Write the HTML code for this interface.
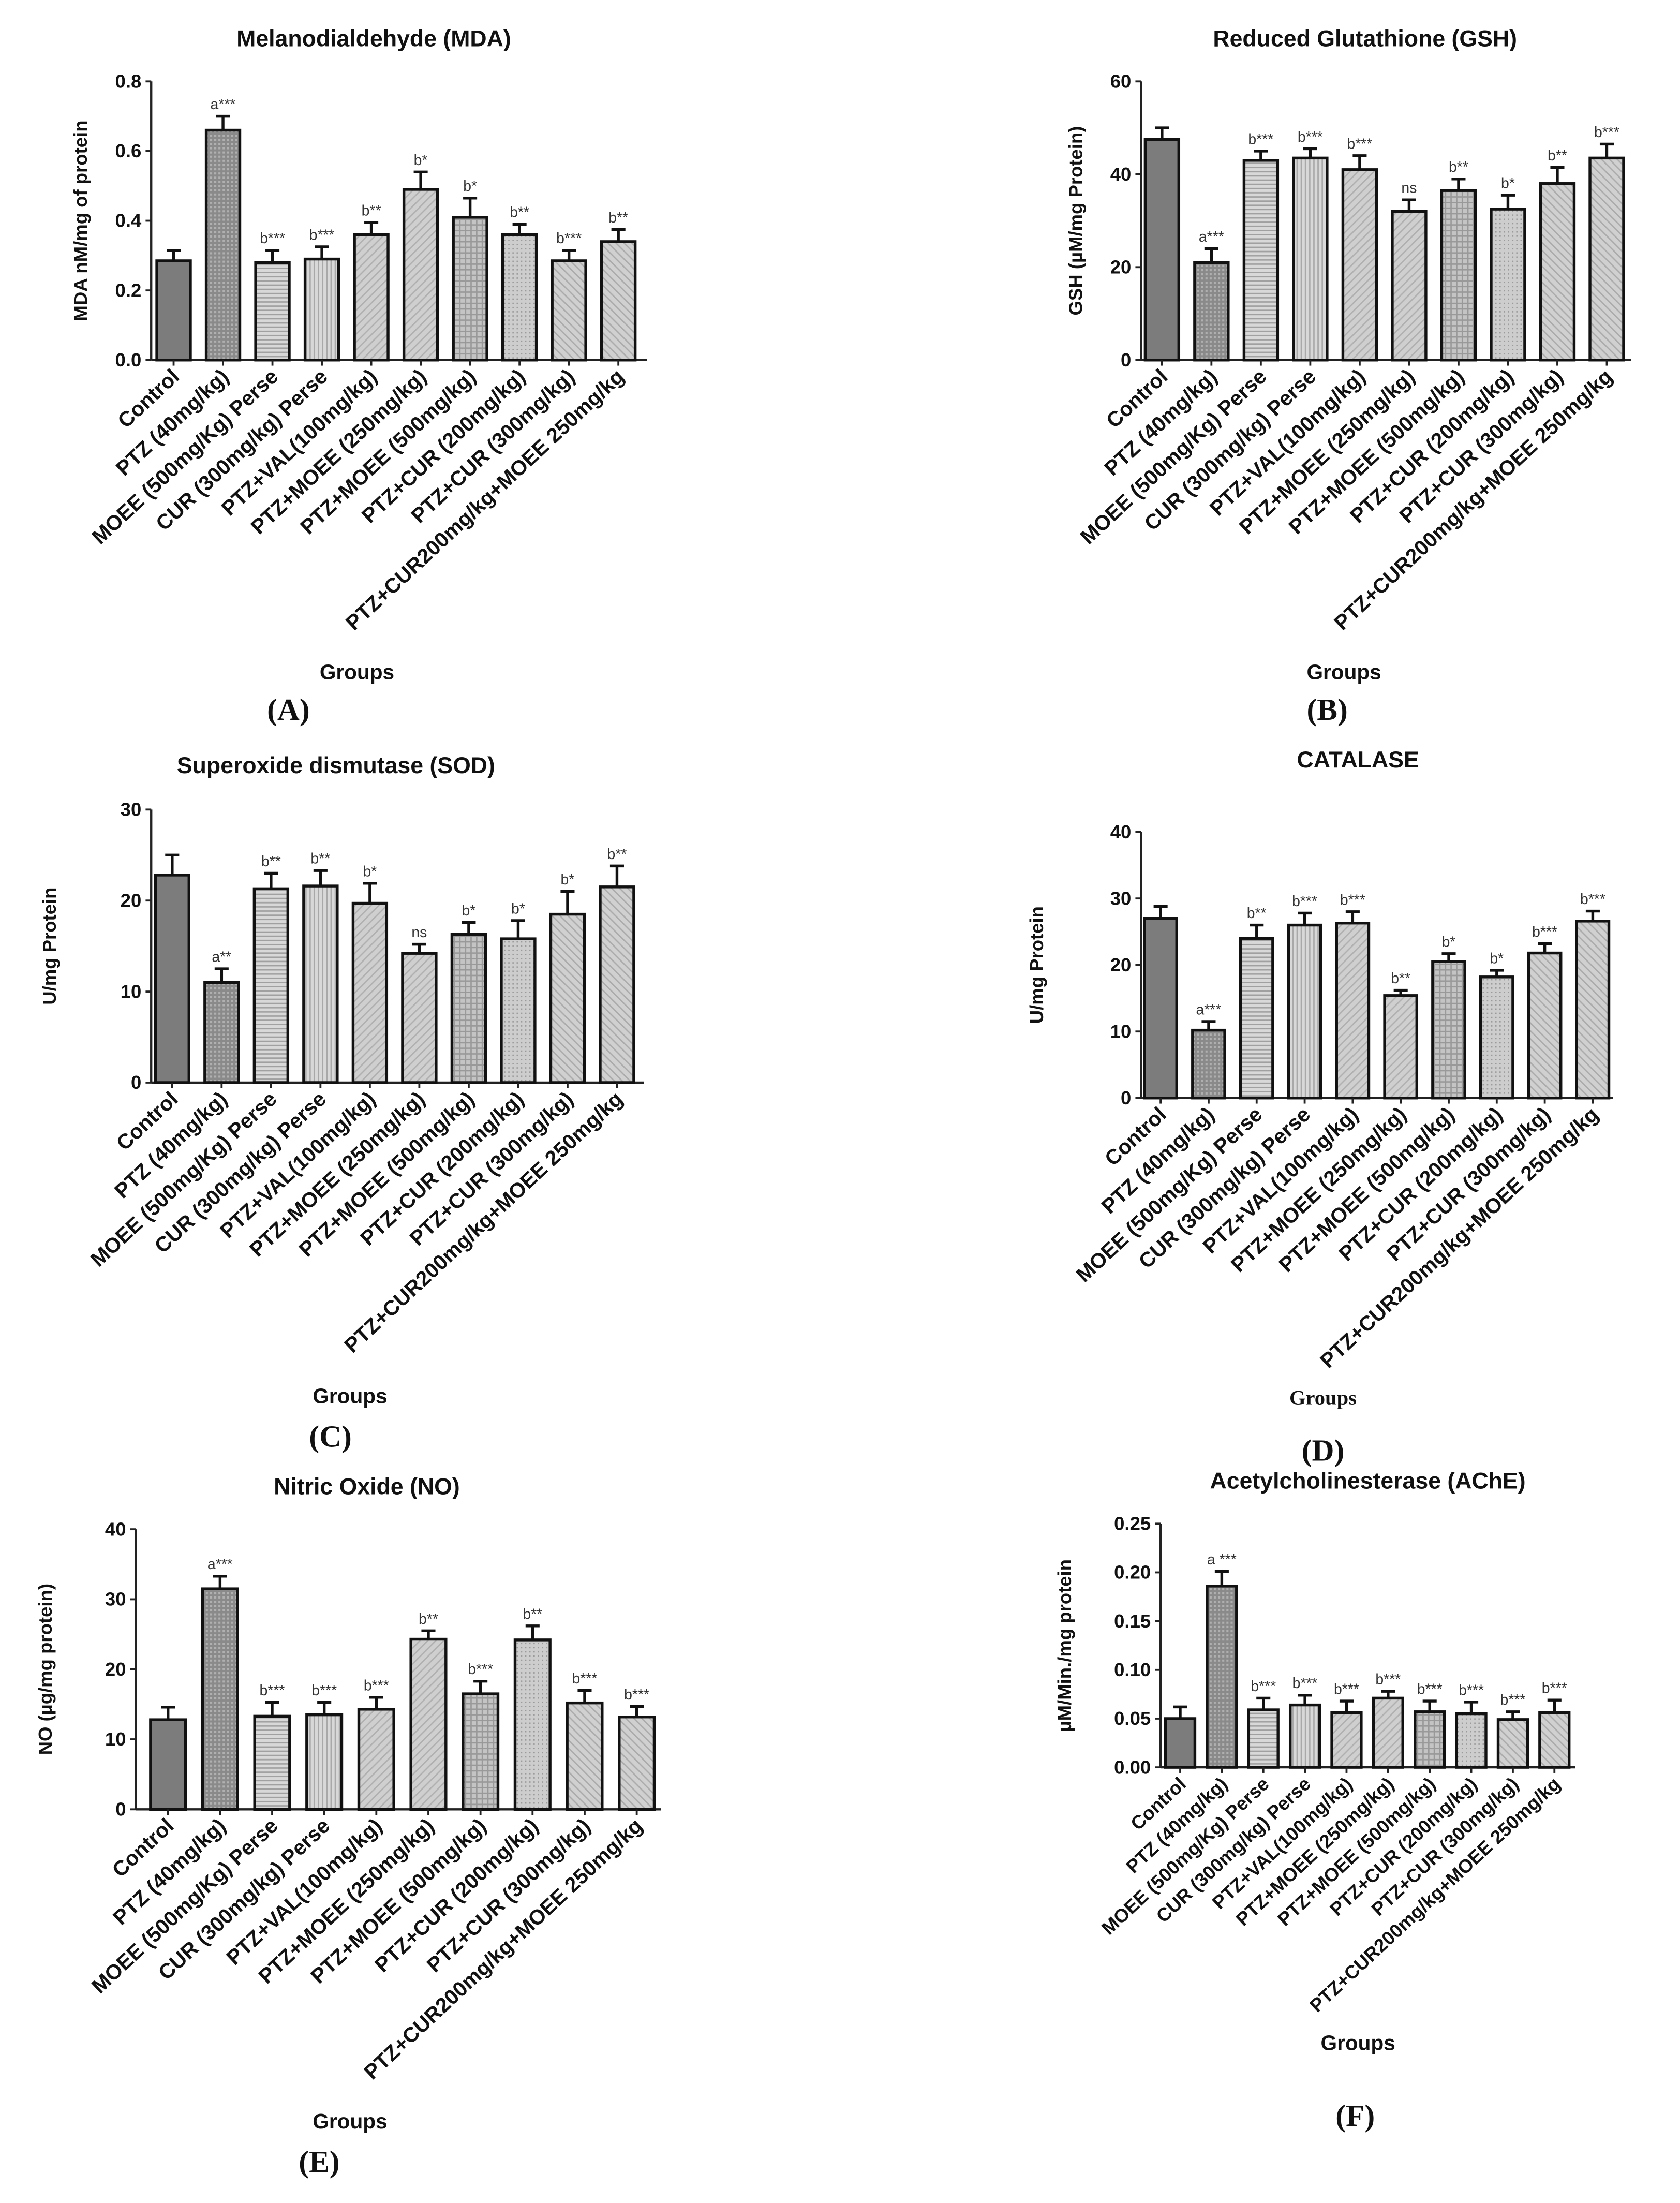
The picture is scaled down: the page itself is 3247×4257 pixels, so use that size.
<!DOCTYPE html>
<html><head><meta charset="utf-8"><style>
html,body{margin:0;padding:0;background:#fff;}
svg{display:block;}
text{font-family:"Liberation Sans",sans-serif;}
</style></head><body>
<svg id="fig" width="3247" height="4257" viewBox="0 0 1200 1573" xmlns="http://www.w3.org/2000/svg">
<defs>
<pattern id="pChk" width="3" height="3" patternUnits="userSpaceOnUse"><rect width="3" height="3" fill="#8a8a8a"/><rect width="1.5" height="1.5" fill="#b0b0b0"/></pattern>
<pattern id="pH" width="4" height="3" patternUnits="userSpaceOnUse"><rect width="4" height="3" fill="#d8d8d8"/><rect y="2" width="4" height="1" fill="#a0a0a0"/></pattern>
<pattern id="pV" width="3" height="4" patternUnits="userSpaceOnUse"><rect width="3" height="4" fill="#d8d8d8"/><rect x="2" width="1" height="4" fill="#a8a8a8"/></pattern>
<pattern id="pD1" width="4" height="4" patternUnits="userSpaceOnUse" patternTransform="rotate(45)"><rect width="4" height="4" fill="#cfcfcf"/><rect width="1" height="4" fill="#b0b0b0"/></pattern>
<pattern id="pD2" width="4" height="4" patternUnits="userSpaceOnUse" patternTransform="rotate(-45)"><rect width="4" height="4" fill="#d0d0d0"/><rect width="1" height="4" fill="#ababab"/></pattern>
<pattern id="pG" width="4" height="4" patternUnits="userSpaceOnUse"><rect width="4" height="4" fill="#c4c4c4"/><rect width="4" height="1" fill="#999"/><rect width="1" height="4" fill="#999"/></pattern>
<pattern id="pDot" width="3" height="3" patternUnits="userSpaceOnUse"><rect width="3" height="3" fill="#cdcdcd"/><rect width="1" height="1" fill="#9a9a9a"/></pattern>
</defs>
</svg>
<script>
const groups = ["Control","PTZ (40mg/kg)","MOEE (500mg/Kg) Perse","CUR (300mg/kg) Perse","PTZ+VAL(100mg/kg)","PTZ+MOEE (250mg/kg)","PTZ+MOEE (500mg/kg)","PTZ+CUR (200mg/kg)","PTZ+CUR (300mg/kg)","PTZ+CUR200mg/kg+MOEE 250mg/kg"];
const mdaValues = [0.285,0.66,0.28,0.29,0.36,0.49,0.41,0.36,0.285,0.34];
const mdaErrors = [0.03,0.04,0.035,0.035,0.035,0.05,0.055,0.03,0.03,0.035];
const mdaSig = ["","a***","b***","b***","b**","b*","b*","b**","b***","b**"];
const mdaTicks = ["0.0","0.2","0.4","0.6","0.8"];
const gshValues = [47.5,21,43,43.5,41,32,36.5,32.5,38,43.5];
const gshErrors = [2.5,3,2,2,3,2.5,2.5,3,3.5,3];
const gshSig = ["","a***","b***","b***","b***","ns","b**","b*","b**","b***"];
const gshTicks = ["0","20","40","60"];
const sodValues = [22.8,11,21.3,21.6,19.7,14.2,16.3,15.8,18.5,21.5];
const sodErrors = [2.2,1.5,1.7,1.7,2.2,1,1.3,2,2.5,2.3];
const sodSig = ["","a**","b**","b**","b*","ns","b*","b*","b*","b**"];
const sodTicks = ["0","10","20","30"];
const catValues = [27,10.2,24,26,26.3,15.4,20.5,18.2,21.8,26.6];
const catErrors = [1.8,1.3,2,1.8,1.7,0.8,1.2,1,1.4,1.5];
const catSig = ["","a***","b**","b***","b***","b**","b*","b*","b***","b***"];
const catTicks = ["0","10","20","30","40"];
const noValues = [12.8,31.5,13.3,13.5,14.3,24.3,16.5,24.2,15.2,13.2];
const noErrors = [1.8,1.8,2,1.8,1.7,1.2,1.8,2,1.8,1.5];
const noSig = ["","a***","b***","b***","b***","b**","b***","b**","b***","b***"];
const noTicks = ["0","10","20","30","40"];
const acheValues = [0.05,0.186,0.059,0.064,0.056,0.071,0.057,0.055,0.049,0.056];
const acheErrors = [0.012,0.015,0.012,0.01,0.012,0.007,0.011,0.012,0.008,0.013];
const acheSig = ["","a ***","b***","b***","b***","b***","b***","b***","b***","b***"];
const acheTicks = ["0.00","0.05","0.10","0.15","0.20","0.25"];

const fills = ["#7c7c7c","url(#pChk)","url(#pH)","url(#pV)","url(#pD1)","url(#pD1)","url(#pG)","url(#pDot)","url(#pD2)","url(#pD2)"];
const NS = "http://www.w3.org/2000/svg";
const svg = document.getElementById('fig');
function mk(tag, attrs, parent, txt){
  const e = document.createElementNS(NS, tag);
  for (const k in attrs) e.setAttribute(k, attrs[k]);
  if (txt !== undefined) e.textContent = txt;
  (parent||svg).appendChild(e);
  return e;
}
function panel(p){
  const g = mk('g', {});
  
  
  const max = parseFloat(p.ticks[p.ticks.length-1]);
  const yS = v => p.y0 - (v/max)*(p.y0-p.yTop);
  const xS = i => p.first + i*p.step;
  const t = mk('text', {x:p.tx, y:p.ty, 'text-anchor':'middle', 'font-size':16.5, 'font-weight':'bold', fill:'#111'}, g, p.title);
  
  
  const yl = mk('text', {x:0, y:0, transform:`translate(${p.ylx},${(p.y0+p.yTop)/2}) rotate(-90)`, 'text-anchor':'middle', 'font-size':13.5, 'font-weight':'bold', fill:'#111'}, g, p.ylabel);
  
  
  const ya = mk('line', {x1:p.ax, y1:p.yTop, x2:p.ax, y2:p.y0, stroke:'#222', 'stroke-width':1.6}, g);
  
  
  const xa = mk('line', {x1:p.ax, y1:p.y0, x2:p.xEnd, y2:p.y0, stroke:'#222', 'stroke-width':1.6}, g);
  
  
  p.ticks.forEach(tl => {
    const y = yS(parseFloat(tl));
    mk('line', {x1:p.ax-4, y1:y, x2:p.ax, y2:y, stroke:'#222', 'stroke-width':1.4}, g);
    const tt = mk('text', {x:p.ax-7, y:y+4.5, 'text-anchor':'end', 'font-size':13.5, 'font-weight':'bold', fill:'#111'}, g, tl);
    
    
  });
  p.values.forEach((v, i) => {
    const cx = xS(i), top = yS(v), eTop = yS(v + p.errors[i]);
    const b = mk('rect', {x:cx-p.bw/2, y:top, width:p.bw, height:p.y0-top, fill:fills[i], stroke:'#111', 'stroke-width':2}, g);
    
    
    mk('line', {x1:cx, y1:top, x2:cx, y2:eTop, stroke:'#111', 'stroke-width':2}, g);
    mk('line', {x1:cx-5, y1:eTop, x2:cx+5, y2:eTop, stroke:'#111', 'stroke-width':2}, g);
    if (p.sig[i]) {
      const s = mk('text', {x:cx, y:eTop-5, 'text-anchor':'middle', 'font-size':10.5, fill:'#333'}, g, p.sig[i]);
      
      
    }
    mk('line', {x1:cx, y1:p.y0, x2:cx, y2:p.y0+4, stroke:'#222', 'stroke-width':1.4}, g);
    const gl = mk('text', {x:0, y:0, transform:`translate(${cx+5},${p.y0+13}) rotate(-43)`, 'text-anchor':'end', 'font-size':p.lfs||15, 'font-weight':'bold', fill:'#111'}, g, groups[i]);
    
    
  });
  const gx = mk('text', {x:p.gx, y:p.gy, 'text-anchor':'middle', 'font-size':15, 'font-weight':'bold', fill:'#111', style:p.gserif?'font-family:"Liberation Serif",serif':''}, g, 'Groups');
  
  
  const pl = mk('text', {x:p.lx, y:p.ly, 'text-anchor':'middle', 'font-size':22, 'font-weight':'bold', fill:'#111', style:'font-family:"Liberation Serif",serif'}, g, p.letter);
  
  
}
panel({name:'mda-chart', title:'Melanodialdehyde (MDA)', tx:267, ty:33, ylabel:'MDA nM/mg of protein', ylx:62,
  ax:108, y0:257, yTop:58, xEnd:462, first:124, step:35.3, bw:24, values:mdaValues, errors:mdaErrors, sig:mdaSig, ticks:mdaTicks,
  gx:255, gy:485, lx:206, ly:514, letter:'(A)'});
panel({name:'gsh-chart', title:'Reduced Glutathione (GSH)', tx:975, ty:33, ylabel:'GSH (µM/mg Protein)', ylx:773,
  ax:815, y0:257, yTop:58, xEnd:1165, first:830, step:35.3, bw:24, values:gshValues, errors:gshErrors, sig:gshSig, ticks:gshTicks,
  gx:960, gy:485, lx:948, ly:514, letter:'(B)'});
panel({name:'sod-chart', title:'Superoxide dismutase (SOD)', tx:240, ty:552, ylabel:'U/mg Protein', ylx:40,
  ax:108, y0:773, yTop:578, xEnd:460, first:123, step:35.3, bw:24, values:sodValues, errors:sodErrors, sig:sodSig, ticks:sodTicks,
  gx:250, gy:1002, lx:236, ly:1033, letter:'(C)'});
panel({name:'catalase-chart', title:'CATALASE', tx:970, ty:548, ylabel:'U/mg Protein', ylx:745,
  ax:815, y0:784, yTop:594, xEnd:1152, first:829, step:34.3, bw:23, values:catValues, errors:catErrors, sig:catSig, ticks:catTicks,
  gx:945, gy:1003, gserif:true, lx:945, ly:1043, letter:'(D)'});
panel({name:'no-chart', title:'Nitric Oxide (NO)', tx:262, ty:1067, ylabel:'NO (µg/mg protein)', ylx:37,
  ax:97, y0:1292, yTop:1092, xEnd:472, first:120, step:37.2, bw:25, values:noValues, errors:noErrors, sig:noSig, ticks:noTicks,
  gx:250, gy:1520, lx:228, ly:1551, letter:'(E)'});
panel({name:'ache-chart', title:'Acetylcholinesterase (AChE)', tx:977, ty:1063, ylabel:'µM/Min./mg protein', ylx:765,
  ax:829, y0:1262, yTop:1088, xEnd:1125, first:843, step:29.7, bw:21, lfs:13.5, values:acheValues, errors:acheErrors, sig:acheSig, ticks:acheTicks,
  gx:970, gy:1464, lx:968, ly:1518, letter:'(F)'});
</script>
</body></html>
